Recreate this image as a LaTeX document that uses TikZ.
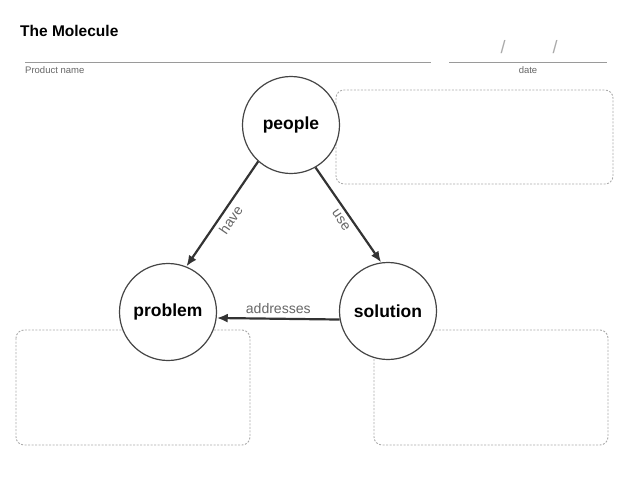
\documentclass[tikz,border=0pt]{standalone}
\usepackage{xcolor}
\usepackage{fontspec}
\setmainfont{Liberation Sans}
\usetikzlibrary{arrows.meta}

\definecolor{ink}{HTML}{333333}
\definecolor{rim}{HTML}{444444}
\definecolor{rule}{HTML}{9A9A9A}
\definecolor{dots}{HTML}{AAAAAA}
\definecolor{note}{HTML}{666666}

\tikzset{
  atom/.style={circle,draw=rim,line width=1.2pt,minimum size=97pt,inner sep=0pt,
    font=\fontsize{17.5}{19}\selectfont\bfseries},
  bond/.style={draw=ink,line width=2.2pt,-{Latex[length=11pt,width=9pt]}},
  bondlabel/.style={text=note,font=\fontsize{14}{16}\selectfont,inner sep=4pt},
  notebox/.style={draw=dots,line width=0.9pt,dash pattern=on 2pt off 1.5pt,rounded corners=8pt},
  caption/.style={font=\fontsize{9.5}{10}\selectfont,text=note,inner sep=0pt}
}

\begin{document}
\begin{tikzpicture}[x=1pt,y=-1pt]
\useasboundingbox (0,0) rectangle (638,493);
%header
	\node[anchor=west,inner sep=0pt,font=\fontsize{15.5}{17}\selectfont\bfseries] at (20,31) (title) {The Molecule};
	\draw[rule,line width=0.9pt] (25,62) -- (431,62);
	\draw[rule,line width=0.9pt] (449,62) -- (607,62);
	\node[caption,anchor=west] at (25,70) (product) {Product name};
	\node[caption] at (528,70) (date) {date};
	\node[text=dots,font=\fontsize{18}{20}\selectfont] at (503,47) (slash1) {/};
	\node[text=dots,font=\fontsize{18}{20}\selectfont] at (555,47) (slash2) {/};
%boxes
	\draw[notebox] (336,90) rectangle (613,184);
	\draw[notebox] (16,330) rectangle (250,445);
	\draw[notebox] (374,330) rectangle (608,445);
%molecule
	\node[atom,fill=white] at (291,125) (people) {people};
	\node[atom,fill=white] at (168,312) (problem) {problem};
	\node[atom,fill=white] at (388,311) (solution) {solution};
	\draw[bond] (people.228) -- (problem.68) node[midway,sloped,below,bondlabel] {have};
	\draw[bond] (people.-60) -- (solution.98) node[midway,sloped,below,bondlabel] {use};
	\draw[bond] (solution.190) -- (problem.-7) node[midway,sloped,above,bondlabel] {addresses};
\end{tikzpicture}
\end{document}
